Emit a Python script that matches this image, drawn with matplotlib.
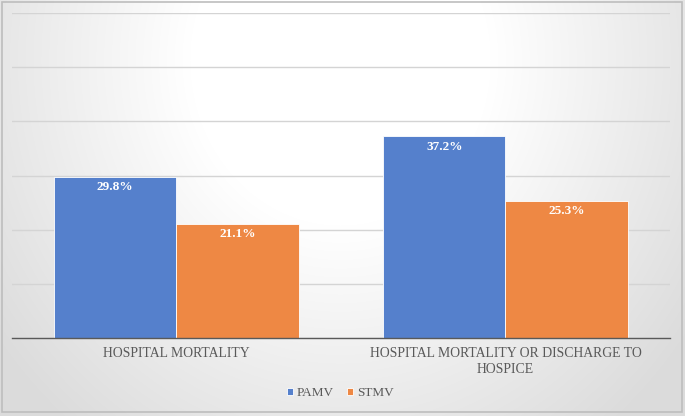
import numpy as np
import matplotlib
matplotlib.use("Agg")
import matplotlib.pyplot as plt
from matplotlib.patches import Rectangle

categories = ["HOSPITAL MORTALITY", "HOSPITAL MORTALITY OR DISCHARGE TO\nHOSPICE"]
series_names = ["PAMV", "STMV"]
pamv = [29.8, 37.2]
stmv = [21.1, 25.3]
colors = ["#5580CC", "#EE8844"]

W, H = 685, 416
fig = plt.figure(figsize=(W / 100, H / 100), dpi=100)

# radial gradient background
bg = fig.add_axes([0, 0, 1, 1], zorder=-10)
yy, xx = np.mgrid[0:H, 0:W]
cx, cy = 340, 60
d = np.sqrt(((xx - cx) / 1.0) ** 2 + ((yy - cy) / 1.1) ** 2)
t = np.clip((d - 150) / 280, 0, 1)
val = 1.0 - 0.14 * t
img = np.dstack([val, val, val])
bg.imshow(img, extent=[0, W, H, 0], aspect="auto", interpolation="bilinear")
bg.set_xlim(0, W)
bg.set_ylim(H, 0)
bg.axis("off")
bg.add_patch(Rectangle((2, 2), W - 5, H - 6, fill=False, edgecolor="#bdbdbd", linewidth=1.2))

ax = fig.add_axes([12 / W, (H - 338) / H, (670 - 12) / W, (338 - 13) / H])
ax.patch.set_alpha(0)
x = np.arange(len(categories))
bw = 0.372
b1 = ax.bar(x - bw / 2, pamv, bw, color=colors[0], label=series_names[0], zorder=3,
            edgecolor="white", linewidth=0.6)
b2 = ax.bar(x + bw / 2, stmv, bw, color=colors[1], label=series_names[1], zorder=3,
            edgecolor="white", linewidth=0.6)
for bars in (b1, b2):
    for b in bars:
        h = b.get_height()
        ax.text(b.get_x() + b.get_width() / 2, h - 1.9, f"{h:.1f}%", ha="center", va="center",
                color="white", fontweight="bold", fontsize=9.5, family="Liberation Serif", zorder=4)

ax.set_xlim(-0.5, 1.5)
ax.set_ylim(0, 60)
ax.set_yticks(np.arange(0, 61, 10))
ax.yaxis.grid(True, color="#d4d4d4", linewidth=1, zorder=0)
ax.tick_params(axis="y", left=False, labelleft=False)
ax.tick_params(axis="x", bottom=False, pad=3)
ax.set_xticks(x)
ax.set_xticklabels(categories, family="Liberation Serif", fontsize=9.9, color="#595959",
                   linespacing=1.25, va="top")
for s in ["left", "right", "top"]:
    ax.spines[s].set_visible(False)
ax.spines["bottom"].set_color("#595959")
ax.spines["bottom"].set_linewidth(1)
ax.spines["bottom"].set_zorder(5)

leg = fig.legend(handles=[b1, b2], labels=series_names, loc="center", bbox_to_anchor=(340 / W, 1 - 393 / H),
                 ncol=2, frameon=False, prop={"family": "Liberation Serif", "size": 9.5},
                 handlelength=0.45, handleheight=0.45, handletextpad=0.3, columnspacing=1.0)
for t_ in leg.get_texts():
    t_.set_color("#595959")

fig.savefig("out.png", dpi=100)
